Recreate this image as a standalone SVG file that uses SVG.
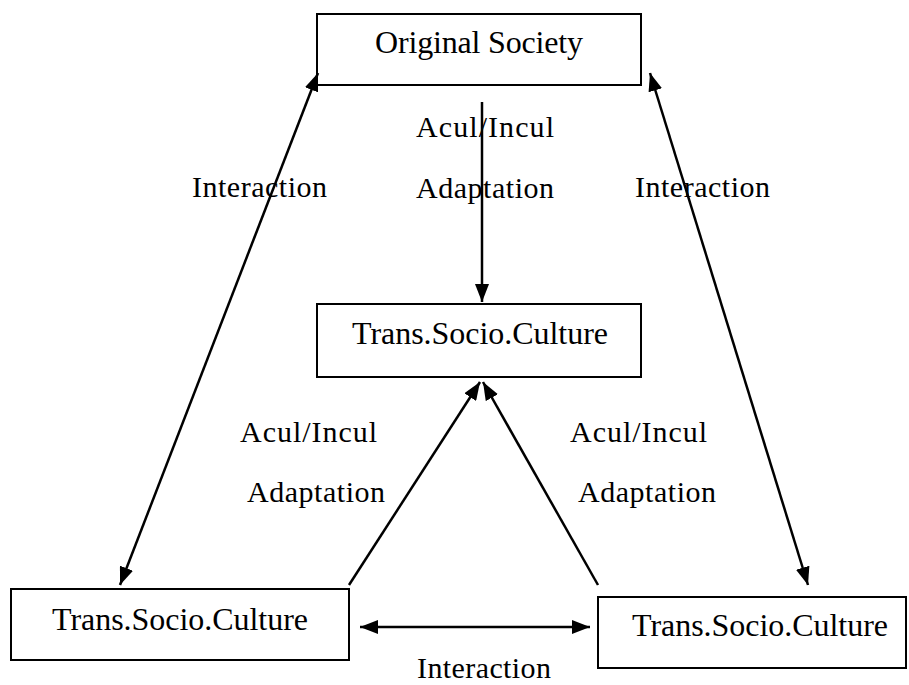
<svg xmlns="http://www.w3.org/2000/svg" width="909" height="685" viewBox="0 0 909 685">
<style>
.box{fill:#fff;stroke:#000;stroke-width:2}
.bt{font-family:'Liberation Serif','Times New Roman','DejaVu Serif',serif;font-size:32px;fill:#000;text-anchor:middle}
.lb{font-family:'Liberation Serif','Times New Roman','DejaVu Serif',serif;font-size:30px;fill:#000}
.ln{stroke:#000;stroke-width:2.5;fill:none}
</style>
<defs>
<marker id="ah" viewBox="0 0 18 14" markerWidth="18" markerHeight="14" refX="18" refY="7" orient="auto-start-reverse" markerUnits="userSpaceOnUse">
<path d="M0,0 L18,7 L0,14 z" fill="#000"/>
</marker>
</defs>
<rect width="909" height="685" fill="#fff"/>
<g id="node-original">
<rect class="box" x="317" y="14" width="324" height="71"/>
<text class="bt" x="479" y="53" font-family="Liberation Serif, serif" textLength="208">Original Society</text>
</g>
<g id="node-center">
<rect class="box" x="317" y="304" width="324" height="73"/>
<text class="bt" x="480" y="344" font-family="Liberation Serif, serif" textLength="256">Trans.Socio.Culture</text>
</g>
<g id="node-left">
<rect class="box" x="11" y="589" width="338" height="71"/>
<text class="bt" x="180" y="630" font-family="Liberation Serif, serif" textLength="256">Trans.Socio.Culture</text>
</g>
<g id="node-right">
<rect class="box" x="598" y="597" width="308" height="71"/>
<text class="bt" x="760" y="636" font-family="Liberation Serif, serif" textLength="256">Trans.Socio.Culture</text>
</g>
<g id="connectors">
<line class="ln" x1="482" y1="102" x2="482" y2="302" marker-end="url(#ah)"/>
<line class="ln" x1="318" y1="73" x2="120" y2="585" marker-start="url(#ah)" marker-end="url(#ah)"/>
<line class="ln" x1="650" y1="73" x2="808" y2="585" marker-start="url(#ah)" marker-end="url(#ah)"/>
<line class="ln" x1="349" y1="585" x2="480" y2="382" marker-end="url(#ah)"/>
<line class="ln" x1="598" y1="585" x2="483" y2="382" marker-end="url(#ah)"/>
<line class="ln" x1="360" y1="627" x2="590" y2="627" stroke-width="3" marker-start="url(#ah)" marker-end="url(#ah)"/>
</g>
<g id="labels">
<text class="lb" x="416" y="137" textLength="138">Acul/Incul</text>
<text class="lb" x="416" y="198" textLength="138">Adaptation</text>
<text class="lb" x="192" y="197" textLength="135">Interaction</text>
<text class="lb" x="635" y="197" textLength="135">Interaction</text>
<text class="lb" x="240" y="442" textLength="137">Acul/Incul</text>
<text class="lb" x="247" y="502" textLength="138">Adaptation</text>
<text class="lb" x="570" y="442" textLength="137">Acul/Incul</text>
<text class="lb" x="578" y="502" textLength="138">Adaptation</text>
<text class="lb" x="417" y="678" textLength="134">Interaction</text>
</g>
</svg>
